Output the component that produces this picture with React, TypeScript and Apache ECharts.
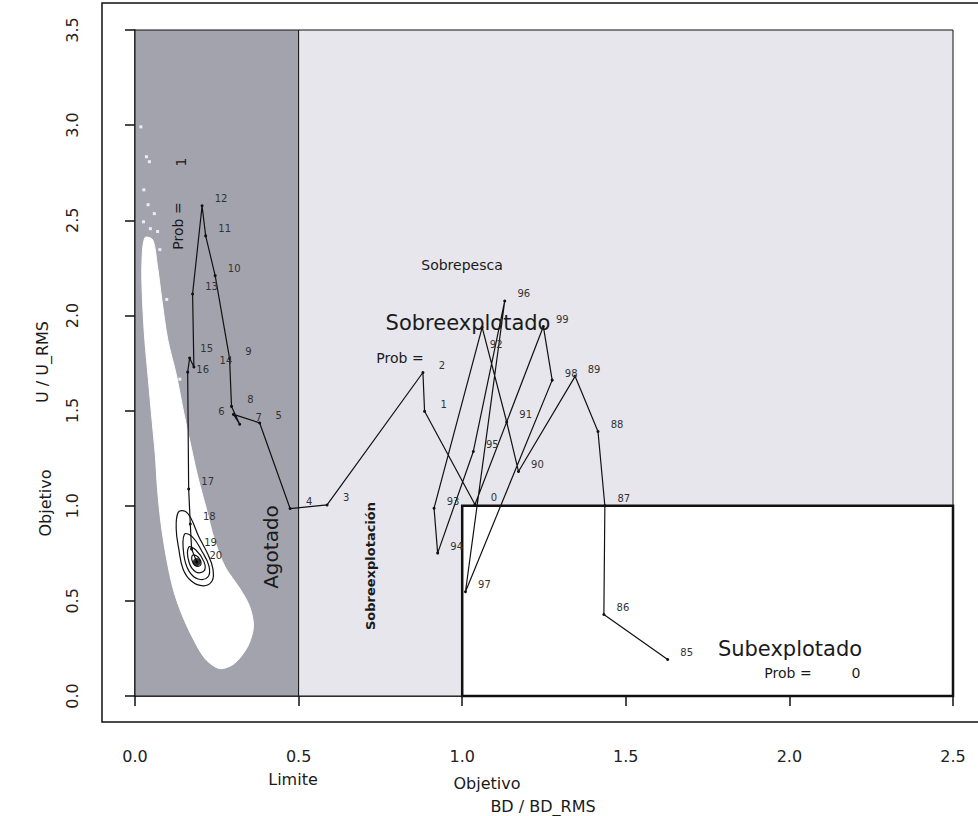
import React, { useEffect, useRef } from "react";
import * as echarts from "echarts";

// ---- Trajectory (1985 → 2020) ----
const years = ["85","86","87","88","89","90","91","92","93","94","95","96","97","98","99","0","1","2","3","4","5","6","7","8","9","10","11","12","13","14","15","16","17","18","19","20"];
const bdRatio = [1.628,1.433,1.436,1.415,1.345,1.172,1.136,1.061,0.914,0.925,1.034,1.130,1.010,1.275,1.248,1.039,0.885,0.880,0.587,0.474,0.381,0.301,0.320,0.295,0.289,0.245,0.216,0.205,0.176,0.180,0.167,0.161,0.164,0.169,0.173,0.189];
const uRatio = [0.192,0.428,1.0,1.39,1.68,1.18,1.44,1.937,0.987,0.751,1.285,2.076,0.548,1.66,1.942,1.006,1.496,1.70,1.004,0.985,1.435,1.48,1.428,1.522,1.774,2.209,2.418,2.576,2.113,1.729,1.776,1.702,1.088,0.904,0.772,0.704];

// ---- Zones ----
const zoneX0 = [0, 0.5, 1.0];
const zoneX1 = [0.5, 2.5, 2.5];
const zoneY0 = [0, 0, 0];
const zoneY1 = [3.5, 3.5, 1.0];

// ---- Posterior cloud outline ----
const cloudX = [0.030,0.054,0.068,0.082,0.100,0.126,0.150,0.173,0.192,0.218,0.242,0.275,0.320,0.350,0.362,0.345,0.304,0.259,0.215,0.178,0.143,0.117,0.097,0.080,0.069,0.062,0.052,0.041,0.030,0.023,0.021];
const cloudY = [2.408,2.398,2.267,2.084,1.874,1.690,1.481,1.297,1.151,0.984,0.826,0.680,0.566,0.472,0.367,0.262,0.171,0.144,0.195,0.300,0.430,0.561,0.718,0.901,1.085,1.269,1.452,1.662,1.872,2.082,2.266];
const dotX = [0.018,0.035,0.044,0.027,0.040,0.059,0.026,0.047,0.069,0.076,0.097,0.137];
const dotY = [2.991,2.834,2.808,2.660,2.582,2.535,2.492,2.456,2.441,2.346,2.084,1.665];

// ---- Density contours ----
const contour1 = [[0.132,0.965],[0.153,0.971],[0.172,0.930],[0.194,0.841],[0.222,0.747],[0.238,0.669],[0.236,0.606],[0.209,0.579],[0.172,0.604],[0.147,0.666],[0.134,0.771],[0.126,0.876]];
const contour2 = [[0.151,0.850],[0.176,0.835],[0.204,0.762],[0.226,0.684],[0.223,0.626],[0.193,0.615],[0.165,0.656],[0.149,0.745]];
const contour3 = [[0.164,0.782],[0.186,0.767],[0.211,0.705],[0.211,0.657],[0.186,0.652],[0.165,0.704]];
const contour4 = [[0.177,0.741],[0.195,0.726],[0.201,0.689],[0.186,0.683],[0.174,0.714]];

const xTicks = [0, 0.5, 1.0, 1.5, 2.0, 2.5];
const yTicks = [0, 0.5, 1.0, 1.5, 2.0, 2.5, 3.0, 3.5];

const FONT = "'DejaVu Sans', 'Liberation Sans', sans-serif";

export default function App() {
  const ref = useRef<HTMLDivElement>(null);
  useEffect(() => {
    if (!ref.current) return;
    const chart = echarts.init(ref.current, undefined, { renderer: "svg" });
    const zoneFill = ["#a3a3ad", "#e6e6ec", "#ffffff"];
    const zoneLw = [1, 1, 2.5];
    const contours = [contour1, contour2, contour3, contour4];
    const last = bdRatio.length - 1;
    // label nudges for crowded year labels
    const labelOffset: Record<string, number[]> = {
      "92": [14, 17],
      "6": [-12, -3],
      "14": [32, -6],
      "16": [15, -3],
      "15": [17, -10],
    };

    const txt = (text: string, x: number, y: number, size: number, rot = 0, weight = "normal") => ({
      type: "text",
      x,
      y,
      rotation: rot,
      z: 50,
      style: {
        text,
        fontSize: size,
        fontFamily: FONT,
        fontWeight: weight,
        fill: "#1a1a1a",
        align: "center",
        verticalAlign: "middle",
      },
    });

    chart.setOption({
      animation: false,
      backgroundColor: "#ffffff",
      grid: { left: 135, top: 30, width: 818, height: 666, containLabel: false },
      xAxis: {
        type: "value",
        min: xTicks[0],
        max: xTicks[xTicks.length - 1],
        interval: 0.5,
        offset: 26,
        axisLine: { show: true, lineStyle: { color: "#111", width: 1.5 } },
        axisTick: { show: true, length: 10, lineStyle: { color: "#111", width: 1.5 } },
        axisLabel: {
          formatter: (v: number) => v.toFixed(1),
          fontSize: 16,
          fontFamily: FONT,
          color: "#222",
          margin: 26,
        },
        splitLine: { show: false },
      },
      yAxis: {
        type: "value",
        min: yTicks[0],
        max: yTicks[yTicks.length - 1],
        interval: 0.5,
        offset: 33,
        axisLine: { show: true, lineStyle: { color: "#111", width: 1.5 } },
        axisTick: { show: true, length: 10, lineStyle: { color: "#111", width: 1.5 } },
        axisLabel: {
          formatter: (v: number) => v.toFixed(1),
          fontSize: 16,
          fontFamily: FONT,
          color: "#222",
          rotate: 90,
          margin: 22,
        },
        splitLine: { show: false },
      },
      graphic: [
        {
          type: "rect",
          z: 40,
          shape: { x: 102, y: 3, width: 884, height: 719 },
          style: { fill: "none", stroke: "#111", lineWidth: 1.5 },
        },
        txt("BD / BD_RMS", 543, 806, 16),
        txt("Limite", 293, 779, 16),
        txt("Objetivo", 487, 783, 16),
        txt("U / U_RMS", 42, 362, 16, Math.PI / 2),
        txt("Objetivo", 45, 503, 16, Math.PI / 2),
        txt("Agotado", 271, 547, 20, Math.PI / 2),
        txt("Sobreexplotación", 370, 566, 13, Math.PI / 2, "bold"),
        txt("Sobrepesca", 462, 265, 14),
        txt("Sobreexplotado", 468, 323, 21),
        txt("Prob =", 400, 358, 14),
        txt("Subexplotado", 790, 649, 21),
        txt("Prob =", 788, 673, 14),
        txt("0", 856, 673, 14),
        txt("Prob =", 178, 226, 14, Math.PI / 2),
        txt("1", 181, 162, 14, Math.PI / 2),
      ],
      series: [
        {
          type: "custom",
          z: 1,
          silent: true,
          data: zoneX0.map((x0, i) => [x0, zoneY0[i], zoneX1[i], zoneY1[i]]),
          renderItem: (params: any, api: any) => {
            const p0 = api.coord([api.value(0), api.value(1)]);
            const p1 = api.coord([api.value(2), api.value(3)]);
            const i = params.dataIndex;
            return {
              type: "rect",
              shape: { x: p0[0], y: p1[1], width: p1[0] - p0[0], height: p0[1] - p1[1] },
              style: { fill: zoneFill[i], stroke: "#111", lineWidth: zoneLw[i] },
              z2: i,
            };
          },
        },
        {
          type: "custom",
          z: 2,
          silent: true,
          data: [0],
          renderItem: (_params: any, api: any) => ({
            type: "polygon",
            shape: {
              points: cloudX.map((x, i) => api.coord([x, cloudY[i]])),
              smooth: 0.3,
            },
            style: { fill: "#ffffff", stroke: "#ffffff", lineWidth: 1 },
          }),
        },
        {
          type: "scatter",
          z: 2,
          silent: true,
          symbol: "rect",
          symbolSize: 3,
          itemStyle: { color: "#ffffff" },
          data: dotX.map((x, i) => [x, dotY[i]]),
        },
        {
          type: "custom",
          z: 3,
          silent: true,
          data: contours.map((_c, i) => i),
          renderItem: (params: any, api: any) => ({
            type: "polygon",
            shape: {
              points: contours[params.dataIndex].map((p) => api.coord(p)),
              smooth: 0.4,
            },
            style: { fill: "none", stroke: "#111", lineWidth: 1.2 },
          }),
        },
        {
          type: "line",
          z: 4,
          silent: true,
          symbol: "circle",
          symbolSize: 3,
          showAllSymbol: true,
          itemStyle: { color: "#111" },
          lineStyle: { color: "#111", width: 1.2 },
          data: bdRatio.map((x, i) => {
            const item: any = { value: [x, uRatio[i]] };
            const off = labelOffset[years[i]];
            if (off) item.label = { offset: off };
            return item;
          }),
          label: {
            show: true,
            position: "inside",
            offset: [19, -7],
            formatter: (p: any) => years[p.dataIndex],
            fontSize: 10,
            fontFamily: FONT,
            color: "#333",
          },
        },
        {
          type: "scatter",
          z: 5,
          silent: true,
          symbolSize: 8,
          itemStyle: { color: "#000" },
          data: [[bdRatio[last], uRatio[last]]],
        },
      ],
    });
    return () => chart.dispose();
  }, []);
  return (
    <div
      ref={ref}
      style={{ position: "absolute", left: 0, top: 0, width: 978, height: 816, background: "#fff" }}
    />
  );
}
